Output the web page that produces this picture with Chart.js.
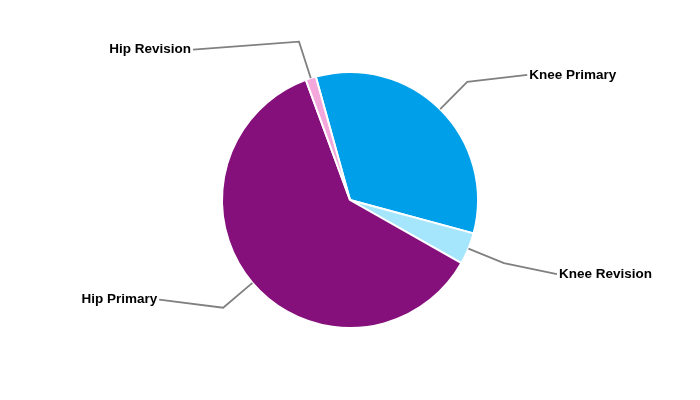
<!DOCTYPE html>
<html>
<head>
<meta charset="utf-8">
<script src="https://cdn.jsdelivr.net/npm/chart.js@4"></script>
<style>
  html, body { margin: 0; padding: 0; background: #fff; }
  #wrap { width: 700px; height: 400px; }
</style>
</head>
<body>
<div id="wrap"><canvas id="pieChart"></canvas></div>
<script>
// Data
const categories = ["Knee Primary", "Knee Revision", "Hip Primary", "Hip Revision"];
const shares = [33.5, 4.0, 61.2, 1.3];
const sliceColors = ["#009fe9", "#a6e6fd", "#850f7b", "#f3a7da"];

// Label layout: offset of the label end from the leader elbow
const labelOffsets = [[60, -7], [53, 11], [-64, -8], [-106, 8]];

const leaderLabels = {
    id: "leaderLabels",
    afterDatasetsDraw(chart) {
        const ctx = chart.ctx;
        const arcs = chart.getDatasetMeta(0).data;
        ctx.save();
        arcs.forEach((arc, i) => {
            const { x, y, startAngle, endAngle, outerRadius } = arc.getProps(["x", "y", "startAngle", "endAngle", "outerRadius"], true);
            const mid = (startAngle + endAngle) / 2;
            const ax = x + Math.cos(mid) * outerRadius;
            const ay = y + Math.sin(mid) * outerRadius;
            const ex = x + Math.cos(mid) * outerRadius * 1.3;
            const ey = y + Math.sin(mid) * outerRadius * 1.3;
            const [ox, oy] = labelOffsets[i];
            const lx = ex + ox, ly = ey + oy;

            ctx.strokeStyle = "#808080";
            ctx.lineWidth = 1.8;
            ctx.beginPath();
            ctx.moveTo(ax, ay);
            ctx.lineTo(ex, ey);
            ctx.lineTo(lx, ly);
            ctx.stroke();

            ctx.fillStyle = "#000";
            ctx.font = "bold 13.5px 'Liberation Sans', Arial, sans-serif";
            ctx.textBaseline = "middle";
            ctx.textAlign = ox > 0 ? "left" : "right";
            ctx.fillText(categories[i], ox > 0 ? lx + 2 : lx - 2, ly);
        });
        ctx.restore();
    }
};

new Chart(document.getElementById("pieChart"), {
    type: "pie",
    data: {
        labels: categories,
        datasets: [{
            data: shares,
            backgroundColor: sliceColors,
            borderColor: "#ffffff",
            borderWidth: 2
        }]
    },
    options: {
        responsive: true,
        maintainAspectRatio: false,
        animation: false,
        rotation: -15.5,
        layout: { padding: { top: 71, bottom: 71 } },
        plugins: {
            legend: { display: false },
            tooltip: { enabled: false }
        }
    },
    plugins: [leaderLabels]
});
</script>
</body>
</html>
